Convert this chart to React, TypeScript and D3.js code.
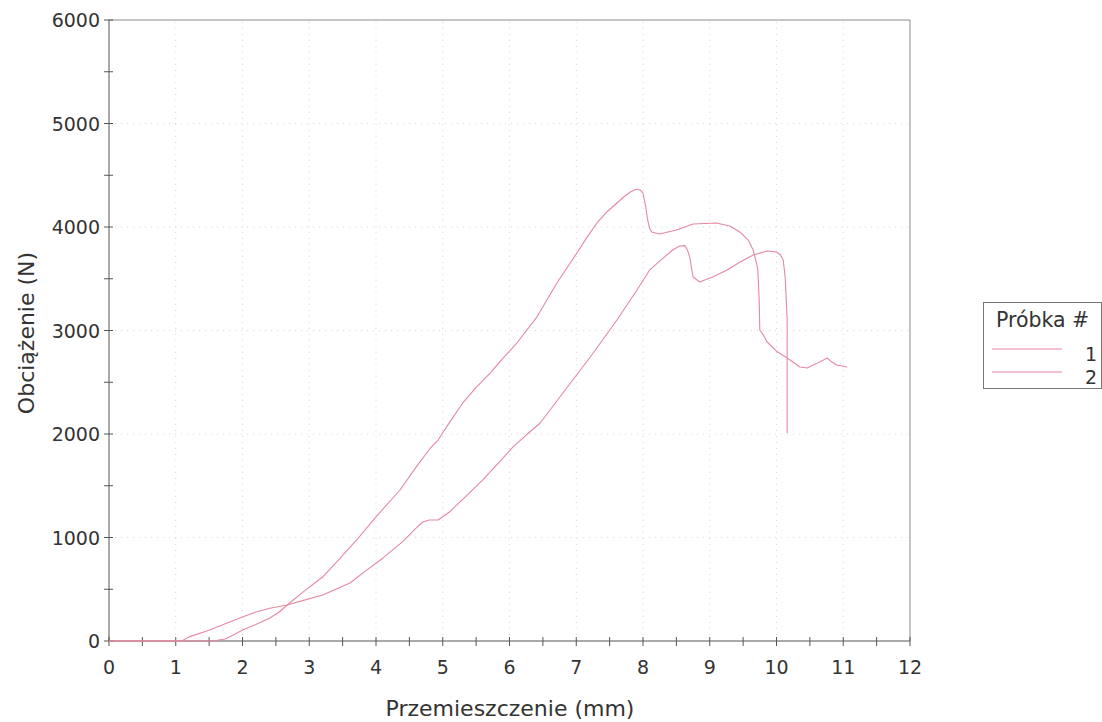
import React from "react";
import * as d3 from "d3";

const xTicks = [0, 1, 2, 3, 4, 5, 6, 7, 8, 9, 10, 11, 12];
const yTicks = [0, 1000, 2000, 3000, 4000, 5000, 6000];
const legendLabels = ["1", "2"];

const series1: [number, number][] = [
  [0, 0], [1.48, 0], [1.6, 5], [1.74, 20], [1.87, 60], [2.0, 106], [2.2, 160], [2.41, 222], [2.55, 280], [2.67, 348],
  [2.9, 470], [3.2, 618], [3.45, 790], [3.71, 976], [4.0, 1200], [4.36, 1459], [4.6, 1680], [4.81, 1860],
  [4.93, 1942], [5.1, 2110], [5.3, 2300], [5.5, 2450], [5.71, 2589], [5.9, 2730], [6.11, 2879], [6.41, 3130], [6.71, 3459],
  [7.01, 3749], [7.15, 3890], [7.31, 4039], [7.45, 4140], [7.61, 4232], [7.72, 4295], [7.81, 4338], [7.9, 4365], [7.96, 4357],
  [8.0, 4328], [8.04, 4200], [8.07, 4068], [8.1, 3985], [8.13, 3952], [8.25, 3932], [8.5, 3971], [8.75, 4029],
  [9.1, 4039], [9.3, 4010], [9.45, 3952], [9.58, 3870], [9.65, 3778], [9.7, 3650],
  [9.72, 3585], [9.74, 3300], [9.75, 3005], [9.8, 2960], [9.86, 2889], [10.0, 2800],
  [10.16, 2734], [10.35, 2647], [10.46, 2638], [10.6, 2680], [10.76, 2734], [10.82, 2700],
  [10.9, 2667], [11.06, 2647],
];

const series2: [number, number][] = [
  [0, 0], [1.09, 0], [1.2, 40], [1.51, 106], [1.75, 170], [2.0, 232], [2.2, 280], [2.41, 316],
  [2.67, 348], [2.9, 390], [3.2, 444], [3.4, 500], [3.61, 560], [3.85, 680], [4.1, 800], [4.4, 960],
  [4.6, 1090], [4.7, 1150], [4.8, 1169], [4.93, 1169], [5.1, 1246], [5.35, 1400], [5.6, 1556],
  [5.85, 1730], [6.05, 1874], [6.25, 1990], [6.46, 2106], [6.8, 2396], [7.21, 2744], [7.61, 3101], [7.91, 3391],
  [8.1, 3585], [8.3, 3700], [8.45, 3780], [8.55, 3816], [8.63, 3820], [8.67, 3770], [8.7, 3710], [8.75, 3517],
  [8.85, 3469], [9.05, 3520], [9.26, 3585], [9.45, 3660], [9.65, 3729], [9.86, 3768],
  [10.0, 3758], [10.06, 3730], [10.1, 3681], [10.13, 3517], [10.16, 3101], [10.16, 2010],
];

const allSeries = [series1, series2];

export default function App() {
  const x = d3.scaleLinear().domain([0, 12]).range([109, 910]);
  const y = d3.scaleLinear().domain([0, 6000]).range([641, 20]);
  const line = d3.line<[number, number]>().x((d) => x(d[0])).y((d) => y(d[1]));
  const minorX = d3.range(0, 12.001, 0.5);
  const minorY = d3.range(0, 6001, 500);
  const font = "DejaVu Sans, Verdana, sans-serif";
  const lineColor = "#e6889f";
  const axisColor = "#555";
  const textColor = "#333";

  return (
    <svg
      width={1102}
      height={722}
      style={{ position: "absolute", left: 0, top: 0, background: "#fff" }}
      fontFamily={font}
    >
      <rect x={0} y={0} width={1102} height={722} fill="#fff" />
      {xTicks.slice(1, -1).map((t) => (
        <line key={"gx" + t} x1={x(t)} x2={x(t)} y1={y(0)} y2={y(6000)} stroke="#d8d8d8" strokeDasharray="1 5" />
      ))}
      {yTicks.slice(1, -1).map((t) => (
        <line key={"gy" + t} x1={x(0)} x2={x(12)} y1={y(t)} y2={y(t)} stroke="#d8d8d8" strokeDasharray="1 5" />
      ))}
      <line x1={x(0)} x2={x(12)} y1={y(6000)} y2={y(6000)} stroke="#8a8a8a" />
      <line x1={x(12)} x2={x(12)} y1={y(6000)} y2={y(0)} stroke="#8a8a8a" />
      <line x1={x(0)} x2={x(12)} y1={y(0)} y2={y(0)} stroke={axisColor} />
      <line x1={x(0)} x2={x(0)} y1={y(0)} y2={y(6000)} stroke={axisColor} />
      {minorX.map((t) => (
        <line key={"tx" + t} x1={x(t)} x2={x(t)} y1={y(0) - 4} y2={y(0) + 5} stroke={axisColor} />
      ))}
      {minorY.map((t) => (
        <line key={"ty" + t} x1={x(0) - 5} x2={x(0) + 4} y1={y(t)} y2={y(t)} stroke={axisColor} />
      ))}
      {xTicks.map((t) => (
        <text key={"lx" + t} x={x(t)} y={674} textAnchor="middle" fontSize={19} fill={textColor}>
          {t}
        </text>
      ))}
      {yTicks.map((t) => (
        <text key={"ly" + t} x={100} y={y(t) + 7} textAnchor="end" fontSize={19} fill={textColor}>
          {t}
        </text>
      ))}
      <text x={510} y={716} textAnchor="middle" fontSize={22} fill={textColor}>
        Przemieszczenie (mm)
      </text>
      <text transform={`translate(34,333) rotate(-90)`} textAnchor="middle" fontSize={22} fill={textColor}>
        Obciążenie (N)
      </text>
      {allSeries.map((s, i) => (
        <path key={"s" + i} d={line(s) || ""} fill="none" stroke={lineColor} strokeWidth={1.1} strokeLinejoin="round" />
      ))}
      <rect x={983.5} y={302.5} width={118} height={86} fill="#fff" stroke="#777" />
      <text x={996} y={327} fontSize={20.5} fill={textColor}>
        Próbka #
      </text>
      {legendLabels.map((l, i) => (
        <g key={"lg" + l}>
          <line x1={992} x2={1062} y1={349 + i * 23} y2={349 + i * 23} stroke={lineColor} strokeWidth={1.1} />
          <text x={1097} y={361 + i * 23} textAnchor="end" fontSize={19} fill={textColor}>
            {l}
          </text>
        </g>
      ))}
    </svg>
  );
}
